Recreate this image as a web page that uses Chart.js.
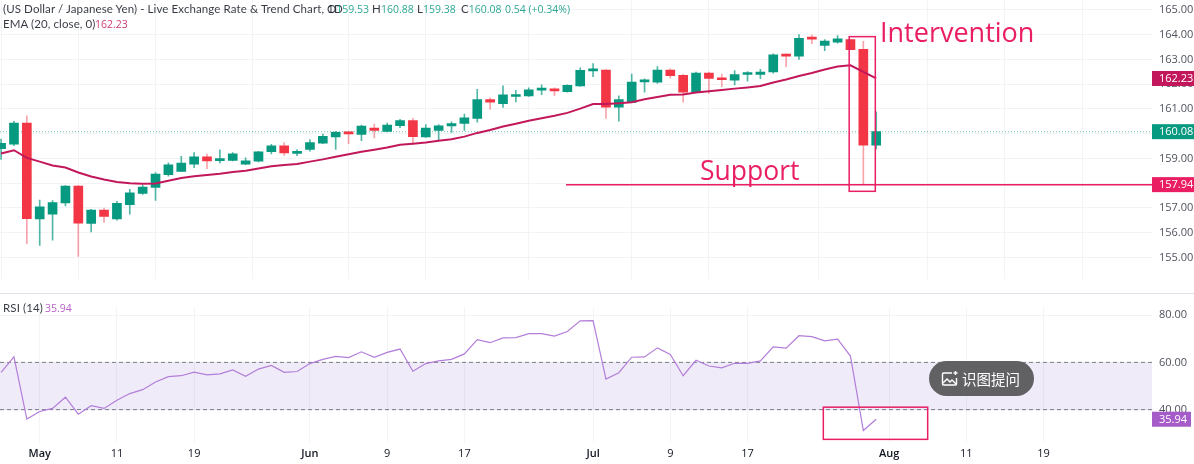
<!DOCTYPE html>
<html>
<head>
<meta charset="utf-8">
<script src="https://cdn.jsdelivr.net/npm/chart.js@4"></script>
<style>
  html, body { margin: 0; padding: 0; background: #fff; overflow: hidden; }
  body { width: 1194px; height: 464px; position: relative; font-family: "Open Sans", sans-serif; }
  canvas { position: absolute; left: 0; }
  #priceCanvas { top: -20px; }
  #rsiCanvas { top: 294px; }
  #sep { position: absolute; left: 0; top: 293px; width: 1194px; height: 1px; background: #e0e3eb; }
  .lbl { position: absolute; white-space: pre; font: 11.5px Lato, sans-serif; color: #131722; opacity: .85; letter-spacing: .1px; line-height: 14px; }
  .val { font: 10.5px "Open Sans", sans-serif; line-height: 14px; letter-spacing: 0; }
  .up { color: #089981; }
  .big { position: absolute; white-space: pre; color: #e91e63; font-size: 27px; line-height: 34px; }
  #pill { position: absolute; left: 929px; top: 361px; width: 105px; height: 35px; border-radius: 18px; background: #616063;
          color: #fff; font: 14.5px "Noto Sans CJK SC", sans-serif; line-height: 35px; }
  #pill svg { position: absolute; left: 12px; top: 9px; }
  #pill span { position: absolute; left: 33px; top: 0; }
</style>
</head>
<body>
<canvas id="priceCanvas" width="1194" height="313"></canvas>
<div id="sep"></div>
<canvas id="rsiCanvas" width="1194" height="170"></canvas>

<div class="lbl" style="left:3px;top:2px">(US Dollar / Japanese Yen) - Live Exchange Rate &amp; Trend Chart, 1D</div>
<div class="lbl" style="left:327px;top:2px">O<span class="val up">159.53</span></div>
<div class="lbl" style="left:372px;top:2px">H<span class="val up">160.88</span></div>
<div class="lbl" style="left:417px;top:2px">L<span class="val up">159.38</span></div>
<div class="lbl" style="left:461px;top:2px">C<span class="val up">160.08</span></div>
<div class="lbl val up" style="left:505px;top:2px">0.54 (+0.34%)</div>
<div class="lbl" style="left:3px;top:17px">EMA (20, close, 0)</div>
<div class="lbl val" style="left:95px;top:17px;color:#c2185b">162.23</div>
<div class="lbl" style="left:3px;top:301px">RSI (14)</div>
<div class="lbl val" style="left:45px;top:301px;color:#ab47bc">35.94</div>

<div class="big" style="left:880px;top:15px">Intervention</div>
<div class="big" style="left:700px;top:153px;font-size:26.5px">Support</div>

<div id="pill">
  <svg width="18" height="18" viewBox="0 0 18 18" fill="none" stroke="#fff" stroke-width="1.4">
    <path d="M11 3H2.5a1 1 0 0 0-1 1v10a1 1 0 0 0 1 1h12a1 1 0 0 0 1-1V8"/>
    <path d="M2 13l4-4 3 3 2-2 4 4"/>
    <path d="M14.5 1v4M12.5 3h4"/>
  </svg>
  <span>识图提问</span>
</div>

<script>
// bar numbers count trading bars from the 1 May candle, first bar visible is -3
var firstBar = -3;
var opens = [159.39,159.57,160.43,156.55,156.75,157.20,157.88,156.37,156.91,156.55,157.13,157.58,157.83,158.34,158.47,158.77,159.06,158.91,158.92,158.77,158.89,159.27,159.51,159.20,159.36,159.62,159.87,160.05,159.97,160.23,160.09,160.32,160.53,159.87,160.13,160.31,160.41,160.62,161.38,161.21,161.50,161.53,161.76,161.79,161.70,161.93,162.54,162.57,161.07,161.26,162.09,162.08,162.57,162.36,161.68,162.45,162.24,162.16,162.39,162.39,162.49,163.19,163.13,163.85,163.57,163.70,163.80,163.41,159.53];
var closes = [159.61,160.43,156.56,157.04,157.21,157.88,156.38,156.91,156.66,157.18,157.61,157.84,158.37,158.74,158.81,159.06,158.90,158.97,159.18,158.90,159.27,159.51,159.22,159.25,159.64,159.89,160.05,159.99,160.31,160.13,160.35,160.53,159.88,160.23,160.32,160.41,160.64,161.38,161.27,161.57,161.57,161.77,161.80,161.73,161.95,162.56,162.57,161.07,161.38,162.08,162.13,162.57,162.34,161.68,162.45,162.23,162.18,162.39,162.43,162.49,163.19,163.13,163.85,163.82,163.74,163.83,163.39,159.53,160.08];
var highs = [159.78,160.50,160.72,157.32,157.30,157.90,157.91,156.94,156.99,157.27,157.75,157.91,158.43,158.82,159.08,159.24,159.17,159.35,159.24,159.02,159.29,159.57,159.64,159.36,159.76,159.98,160.09,160.08,160.35,160.39,160.43,160.58,160.62,160.37,160.37,160.48,160.79,161.79,161.45,161.93,161.75,161.85,161.97,161.85,161.97,162.66,162.83,162.59,161.53,162.41,162.22,162.71,162.62,162.40,162.49,162.49,162.41,162.55,162.51,162.60,163.23,163.23,164.00,163.98,163.80,163.96,163.80,163.73,160.88];
var lows = [158.96,159.51,155.55,155.48,155.70,157.08,155.04,156.03,156.41,156.50,156.75,157.54,157.30,158.28,158.47,158.63,158.58,158.82,158.90,158.75,158.86,159.18,159.12,159.11,159.29,159.60,159.36,159.60,159.72,159.83,160.07,160.24,159.57,159.85,159.72,160.05,160.13,160.46,160.99,161.06,161.28,161.50,161.58,161.54,161.68,161.91,162.30,160.62,160.50,161.26,161.68,162.03,162.24,161.27,161.66,161.63,161.90,161.97,162.12,162.22,162.44,162.71,163.00,163.64,163.35,163.66,163.39,157.94,159.38];
var ema = [159.20,159.33,159.02,158.87,158.71,158.63,158.43,158.27,158.15,158.05,158.00,157.98,157.99,158.10,158.21,158.28,158.33,158.38,158.45,158.50,158.59,158.68,158.73,158.77,158.87,158.96,159.07,159.17,159.27,159.35,159.44,159.55,159.59,159.64,159.71,159.77,159.88,160.03,160.15,160.29,160.40,160.52,160.62,160.72,160.84,161.01,161.20,161.20,161.23,161.27,161.39,161.48,161.57,161.58,161.66,161.71,161.76,161.82,161.87,161.93,162.07,162.19,162.33,162.45,162.59,162.71,162.76,162.50,162.23];
var rsi = [55.77,62.31,36.03,39.23,40.51,45.26,38.08,41.67,40.51,43.97,46.80,48.46,51.67,53.97,54.36,55.90,54.74,55.13,56.79,54.10,57.18,58.72,55.77,56.15,59.49,61.28,62.56,62.05,64.49,62.18,64.23,65.64,56.28,59.49,60.64,61.28,63.59,69.62,68.33,70.38,70.51,72.18,72.18,71.15,73.08,77.56,77.69,52.95,55.64,62.18,62.31,66.15,63.33,54.36,60.90,58.46,57.69,59.62,59.62,60.64,66.54,66.03,71.28,70.90,69.10,69.87,62.69,31.15,35.94];

var timeTickBars = [0, 6, 12, 21, 27, 33, 43, 49, 55, 66, 72, 78];
var timeTickLabels = ['May', '11', '19', 'Jun', '9', '17', 'Jul', '9', '17', 'Aug', '11', '19'];
var priceTicks = [155, 156, 157, 158, 159, 160, 161, 162, 163, 164, 165];
var rsiTicks = [40, 60, 80];

var lastClose = 160.08, emaLast = 162.23, supportLevel = 157.94, rsiLast = 35.94;
var supportFromBar = 40.9;
var interventionBox = { x0: 62.9, x1: 64.93, y0: 157.67, y1: 163.92 };
var rsiBox = { x0: 60.89, x1: 69.0, y0: 27.42, y1: 41.04 };
var rsiBand = [40, 60];

var xMin = -3.085, xMax = 86.43;
var UP = '#089981', DOWN = '#f23645', PINK = '#e91e63', AXIS_W = 42;

function barX(i) { return firstBar + i; }
function isUp(i) { return closes[i] >= opens[i]; }

function xAxis(showLabels) {
  return {
    type: 'linear', min: xMin, max: xMax, offset: false,
    border: { display: false },
    grid: { color: '#f3f4f7', drawTicks: false },
    afterBuildTicks: function (s) { s.ticks = timeTickBars.map(function (v) { return { value: v }; }); },
    afterFit: function (s) { s.height = showLabels ? 21 : 0; },
    ticks: {
      display: showLabels, autoSkip: false, maxRotation: 0, padding: 4, color: '#131722',
      font: function (c) {
        var t = c.tick ? timeTickLabels[timeTickBars.indexOf(c.tick.value)] : '1';
        return { family: 'Open Sans', size: 11, weight: isNaN(+t) ? '600' : '400' };
      },
      callback: function (v) { return timeTickLabels[timeTickBars.indexOf(v)]; }
    }
  };
}

function yAxis(min, max, ticks) {
  return {
    position: 'right', min: min, max: max,
    border: { display: false },
    grid: { color: '#f2f3f6', drawTicks: false },
    afterBuildTicks: function (s) { s.ticks = ticks.map(function (v) { return { value: v }; }); },
    afterFit: function (s) { s.width = AXIS_W; },
    ticks: {
      padding: 7, color: '#50535e', font: { family: 'Open Sans', size: 11 },
      callback: function (v) { return v.toFixed(2); }
    }
  };
}

// value tags on the right scale and outlined boxes, placed through the scales
function overlayPlugin(boxes, tags) {
  return {
    id: 'overlay',
    afterDraw: function (chart) {
      var c = chart.ctx, x = chart.scales.x, y = chart.scales.y;
      boxes.forEach(function (b) {
        c.save();
        c.strokeStyle = PINK; c.lineWidth = 1.5;
        c.strokeRect(x.getPixelForValue(b.x0), y.getPixelForValue(b.y1),
          x.getPixelForValue(b.x1) - x.getPixelForValue(b.x0), y.getPixelForValue(b.y0) - y.getPixelForValue(b.y1));
        c.restore();
      });
      tags.forEach(function (t) {
        var py = y.getPixelForValue(t.value);
        c.save();
        c.fillStyle = t.color;
        c.fillRect(chart.chartArea.right, py - 7.5, t.w || AXIS_W, 15);
        c.fillStyle = '#fff';
        c.font = '11px "Open Sans"';
        c.textBaseline = 'middle';
        c.fillText(t.value.toFixed(2), chart.chartArea.right + 7, py + 0.5);
        c.restore();
      });
    }
  };
}

var wickData = [], bodyData = [], emaData = [], rsiData = [];
opens.forEach(function (o, i) {
  wickData.push({ x: barX(i), y: [lows[i], highs[i]] });
  bodyData.push({ x: barX(i), y: [o, closes[i]] });
  emaData.push({ x: barX(i), y: ema[i] });
  rsiData.push({ x: barX(i), y: rsi[i] });
});
var bodyColors = opens.map(function (o, i) { return isUp(i) ? UP : DOWN; });
var wickColors = opens.map(function (o, i) { return isUp(i) ? 'rgba(8,153,129,0.7)' : 'rgba(242,54,69,0.45)'; });

new Chart(document.getElementById('priceCanvas'), {
  type: 'bar',
  data: {
    datasets: [
      { type: 'line', data: [{ x: xMin, y: lastClose }, { x: xMax, y: lastClose }], borderColor: 'rgba(8,153,129,0.6)', borderWidth: 1, borderDash: [1, 2], pointRadius: 0, order: 5 },
      { data: wickData, backgroundColor: wickColors, barThickness: 1, grouped: false, order: 3 },
      { data: bodyData, backgroundColor: bodyColors, barThickness: 9, grouped: false, minBarLength: 2, order: 2 },
      { type: 'line', data: emaData, borderColor: '#c2185b', borderWidth: 2, pointRadius: 0, tension: 0, order: 1 },
      { type: 'line', data: [{ x: supportFromBar, y: supportLevel }, { x: xMax, y: supportLevel }], borderColor: PINK, borderWidth: 1.5, pointRadius: 0, order: 0 }
    ]
  },
  options: {
    responsive: false, animation: false, events: [],
    layout: { padding: 0, autoPadding: false },
    plugins: { legend: { display: false }, tooltip: { enabled: false } },
    scales: { x: xAxis(false), y: yAxis(154.11, 165.66, priceTicks) }
  },
  plugins: [overlayPlugin([interventionBox], [
    { value: emaLast, color: '#c2185b' },
    { value: lastClose, color: UP },
    { value: supportLevel, color: PINK }
  ])]
});

new Chart(document.getElementById('rsiCanvas'), {
  type: 'line',
  data: {
    datasets: [
      { data: [{ x: xMin, y: rsiBand[1] }, { x: xMax, y: rsiBand[1] }], borderColor: '#787b86', borderWidth: 1, borderDash: [4, 3], pointRadius: 0,
        fill: '+1', backgroundColor: 'rgba(126,87,194,0.12)', order: 3 },
      { data: [{ x: xMin, y: rsiBand[0] }, { x: xMax, y: rsiBand[0] }], borderColor: '#787b86', borderWidth: 1, borderDash: [4, 3], pointRadius: 0, order: 3 },
      { data: rsiData, borderColor: '#b37ed9', borderWidth: 1.2, pointRadius: 0, tension: 0, order: 1 }
    ]
  },
  options: {
    responsive: false, animation: false, events: [],
    layout: { padding: 0, autoPadding: false },
    plugins: { legend: { display: false }, tooltip: { enabled: false } },
    scales: { x: xAxis(true), y: yAxis(25.88, 83.19, rsiTicks) }
  },
  plugins: [overlayPlugin([rsiBox], [{ value: rsiLast, color: '#a55cc8', w: 39 }])]
});
</script>
</body>
</html>
